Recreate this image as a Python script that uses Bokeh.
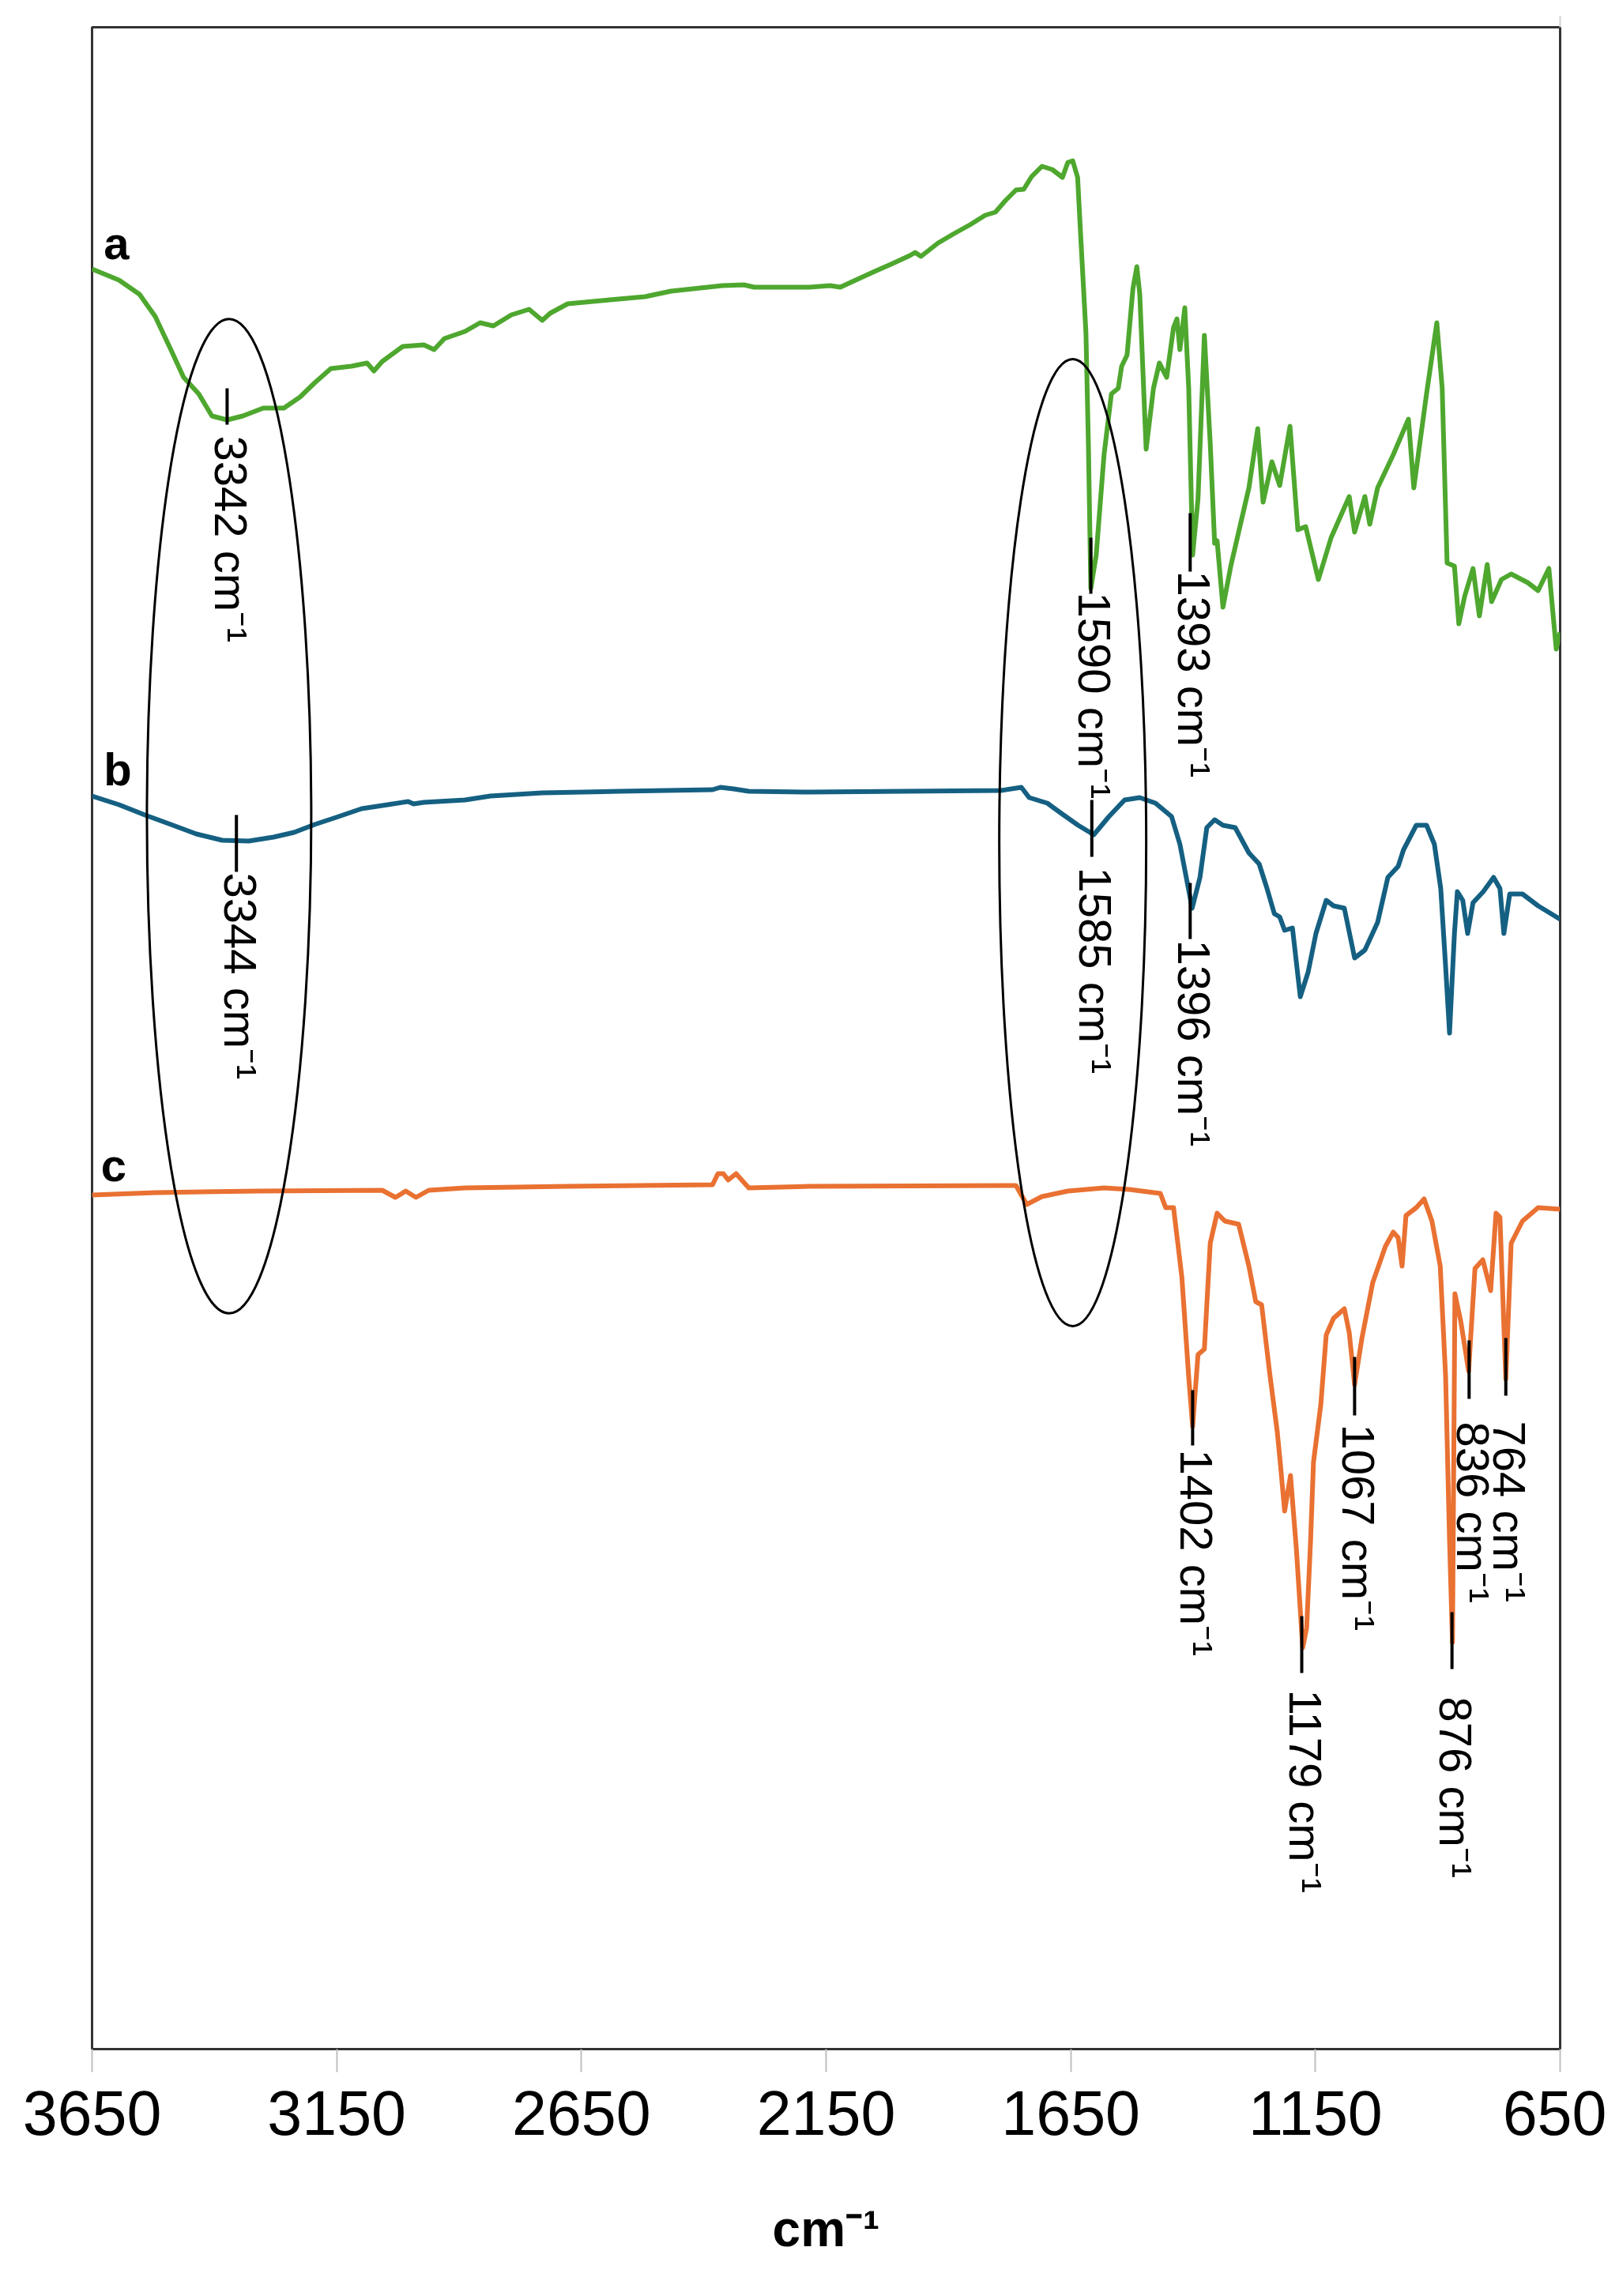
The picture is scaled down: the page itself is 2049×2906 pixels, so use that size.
import numpy as np
from bokeh.plotting import figure
from bokeh.models import Range1d, FixedTicker, LinearAxis
from bokeh.core.properties import value
from bokeh.embed import file_html
from bokeh.resources import INLINE

# ---- data: wavenumber (cm-1) vs stacked transmittance (a.u.) ----
wn_a = [3650, 3595, 3553, 3521, 3489, 3463, 3432, 3405, 3374, 3342,
        3300, 3258, 3225, 3195, 3162, 3120, 3088, 3074, 3057, 3015,
        2972, 2951, 2930, 2888, 2857, 2830, 2793, 2757, 2730, 2714,
        2678, 2592, 2520, 2467, 2362, 2318, 2297, 2184, 2142, 2121,
        2079, 2047, 2014, 1979, 1968, 1956, 1921, 1888, 1856, 1825,
        1804, 1783, 1762, 1746, 1730, 1709, 1688, 1667, 1656, 1646,
        1636, 1630, 1619, 1614, 1609, 1598, 1582, 1567, 1553, 1546,
        1535, 1523, 1515, 1509, 1496, 1481, 1469, 1454, 1440, 1433,
        1427, 1417, 1409, 1401, 1390, 1377, 1365, 1356, 1351, 1339,
        1323, 1307, 1286, 1268, 1257, 1239, 1223, 1202, 1186, 1170,
        1144, 1118, 1081, 1070, 1049, 1039, 1023, 991, 960, 949,
        923, 902, 891, 881, 866, 857, 845, 828, 815, 799,
        790, 770, 750, 716, 695, 673, 658, 650]
t_a = [225.3, 223.9, 222.1, 219.3, 215.1, 211.6, 209.5, 206.7, 206.2, 206.7,
       207.7, 207.7, 209.1, 210.9, 212.7, 213.0, 213.4, 212.4, 213.6, 215.5,
       215.7, 215.1, 216.5, 217.4, 218.5, 218.1, 219.5, 220.2, 218.8, 219.7,
       220.9, 221.4, 221.8, 222.5, 223.2, 223.3, 223.0, 223.0, 223.2, 223.0,
       224.2, 225.1, 226.0, 227.0, 227.4, 226.9, 228.6, 229.8, 230.9, 232.1,
       232.5, 234.0, 235.3, 235.4, 237.0, 238.3, 237.9, 236.9, 238.8, 239.0,
       236.9, 229.8, 217.2, 203.2, 184.9, 189.1, 201.8, 209.5, 210.2, 213.0,
       214.4, 222.8, 225.6, 222.1, 202.5, 210.2, 213.4, 211.6, 217.9, 219.0,
       215.1, 220.4, 210.2, 189.1, 196.2, 216.9, 203.2, 190.6, 190.9, 182.5,
       187.7, 192.0, 197.6, 205.1, 195.8, 200.9, 197.9, 205.4, 192.3, 192.7,
       186.0, 191.3, 196.5, 192.0, 196.5, 193.0, 197.6, 201.8, 206.3, 197.6,
       209.5, 218.5, 210.2, 188.1, 187.7, 180.4, 183.9, 187.4, 181.4, 187.9,
       183.2, 186.0, 186.7, 185.6, 184.6, 187.4, 177.2, 179.3]

wn_b = [3650, 3595, 3542, 3489, 3437, 3384, 3330, 3279, 3237, 3195,
        3151, 3099, 3046, 3004, 2993, 2972, 2888, 2836, 2730, 2571,
        2382, 2366, 2339, 2308, 2184, 1793, 1751, 1735, 1698, 1667,
        1635, 1603, 1572, 1540, 1509, 1477, 1444, 1427, 1414, 1402,
        1386, 1372, 1356, 1339, 1314, 1286, 1265, 1249, 1234, 1223,
        1213, 1197, 1181, 1165, 1149, 1128, 1113, 1091, 1070, 1049,
        1023, 1002, 981, 970, 944, 923, 907, 894, 884, 876,
        866, 860, 849, 839, 828, 807, 786, 773, 765, 753,
        727, 695, 650]
t_b = [158.6, 157.5, 156.2, 155.0, 153.8, 153.0, 152.9, 153.4, 154.0, 155.0,
       155.9, 157.0, 157.5, 157.9, 157.6, 157.8, 158.1, 158.6, 159.0, 159.2,
       159.4, 159.7, 159.5, 159.2, 159.1, 159.3, 159.7, 158.4, 157.7, 156.3,
       154.9, 153.7, 156.0, 158.1, 158.4, 157.7, 156.0, 152.5, 148.3, 144.4,
       148.3, 154.6, 155.6, 154.9, 154.6, 151.4, 150.0, 146.9, 143.7, 143.3,
       141.6, 141.9, 133.2, 136.3, 141.2, 145.4, 144.7, 144.4, 138.1, 139.1,
       142.6, 148.3, 149.7, 151.8, 154.9, 154.9, 152.5, 146.9, 137.0, 128.6,
       141.2, 146.5, 145.4, 141.2, 145.1, 146.5, 148.3, 146.9, 141.2, 146.2,
       146.2, 144.7, 143.0]

wn_c = [3650, 3521, 3309, 3057, 3030, 3009, 2988, 2962, 2888, 2678,
        2382, 2371, 2360, 2350, 2334, 2308, 2184, 1762, 1740, 1709,
        1656, 1582, 1530, 1467, 1456, 1440, 1423, 1409, 1401, 1390,
        1377, 1365, 1351, 1335, 1307, 1286, 1272, 1260, 1244, 1228,
        1222, 1213, 1201, 1189, 1176, 1168, 1160, 1154, 1139, 1128,
        1113, 1091, 1081, 1070, 1055, 1033, 1007, 991, 981, 973,
        965, 944, 928, 912, 895, 884, 876, 870, 865, 853,
        837, 824, 808, 792, 781, 773, 761, 750, 727, 695,
        650]
t_c = [108.1, 108.4, 108.6, 108.7, 107.8, 108.6, 107.8, 108.7, 109.0, 109.2,
       109.4, 110.8, 110.8, 110.0, 110.8, 109.0, 109.2, 109.3, 106.9, 107.9,
       108.6, 109.0, 108.8, 108.3, 106.5, 106.5, 97.7, 85.1, 78.8, 87.9,
       88.6, 102.0, 105.8, 104.8, 104.4, 99.1, 94.6, 94.2, 85.8, 78.1,
       74.3, 68.1, 72.6, 63.3, 50.8, 53.3, 64.3, 74.3, 81.6, 90.4,
       92.5, 93.7, 90.7, 84.1, 90.0, 97.0, 101.6, 103.4, 102.7, 99.1,
       105.5, 106.5, 107.6, 104.8, 99.1, 85.1, 64.3, 51.5, 95.6, 92.1,
       85.8, 98.8, 99.9, 96.0, 105.8, 105.3, 84.8, 102.0, 104.8, 106.5,
       106.3]

x_ticks = [3650, 3150, 2650, 2150, 1650, 1150, 650]

# curve labels
curve_labels = ["a", "b", "c"]
curve_label_x = [3626, 3626, 3632]
curve_label_y = [228.6, 162.0, 111.9]

# peak annotations
ann_labels = ["3342 cm⁻¹", "1590 cm⁻¹", "1393 cm⁻¹",
              "3344 cm⁻¹", "1585 cm⁻¹", "1396 cm⁻¹",
              "1402 cm⁻¹", "1179 cm⁻¹", "1067 cm⁻¹",
              "876 cm⁻¹", "836 cm⁻¹", "764 cm⁻¹"]
ann_x = [3374, 1609, 1406, 3355, 1607, 1406, 1401, 1178, 1070, 871, 836, 761]
ann_top = [210.2, 191.3, 194.4, 156.2, 158.1, 147.6, 83.4, 54.8, 87.6, 55.3, 89.7, 90.0]
ann_bot = [205.6, 184.2, 187.0, 149.0, 150.9, 140.5, 76.4, 47.6, 80.2, 48.1, 82.3, 82.7]
ann_text_y = [204.2, 184.4, 187.1, 148.9, 149.6, 140.4, 75.9, 45.5, 79.1, 44.6, 79.4, 79.5]

# highlighted regions (ellipses)
ell_x = [3370, 1646]
ell_y = [156.05, 152.7]
ell_w = [335.8, 300.3]
ell_h = [125.9, 122.4]

FONT = "Liberation Sans"

p = figure(width=2033, height=2890,
           x_range=Range1d(3650, 650), y_range=Range1d(0, 255.9),
           output_backend="svg", toolbar_location=None,
           y_axis_location=None,
           min_border_left=116, min_border_right=59,
           min_border_top=34, min_border_bottom=297)

p.xgrid.visible = False
p.ygrid.visible = False
p.outline_line_color = "#333333"
p.outline_line_width = 3
p.background_fill_color = "white"
p.border_fill_color = "white"

ax = p.xaxis[0]
ax.ticker = FixedTicker(ticks=x_ticks)
ax.major_label_text_font = FONT
ax.major_label_text_font_size = "79px"
ax.major_label_text_color = "black"
ax.major_label_standoff = 24
ax.major_tick_in = 0
ax.major_tick_out = 29
ax.major_tick_line_color = "#bfbfbf"
ax.major_tick_line_width = 2
ax.minor_tick_line_color = None
ax.axis_line_color = "#333333"
ax.axis_line_width = 3
ax.axis_label = "cm⁻¹"
ax.axis_label_text_font = FONT
ax.axis_label_text_font_style = "bold"
ax.axis_label_text_font_size = "64px"
ax.axis_label_text_color = "black"
ax.axis_label_standoff = 80

# small grey tick above the top-right corner
top_ax = LinearAxis(ticker=FixedTicker(ticks=[650]),
                    major_label_overrides={650: ""},
                    major_label_text_font_size="0px",
                    axis_line_color=None, minor_tick_line_color=None,
                    major_tick_in=0, major_tick_out=14,
                    major_tick_line_color="#d0d0d0", major_tick_line_width=2)
p.add_layout(top_ax, "above")

p.line(wn_a, t_a, line_color="#4EA72E", line_width=6, line_join="round")
p.line(wn_b, t_b, line_color="#156082", line_width=6, line_join="round")
p.line(wn_c, t_c, line_color="#E97132", line_width=6, line_join="round")

p.ellipse(x=ell_x, y=ell_y, width=ell_w, height=ell_h,
          fill_color=None, line_color="black", line_width=3)

p.segment(x0=ann_x, y0=ann_top, x1=ann_x, y1=ann_bot,
          line_color="black", line_width=4)

p.text(x=ann_x, y=ann_text_y, text=ann_labels, angle=-np.pi / 2,
       x_offset=5, text_align="left", text_baseline="middle",
       text_font=value(FONT), text_font_size="58px", text_color="black")

p.text(x=curve_label_x, y=curve_label_y, text=curve_labels,
       text_align="left", text_baseline="middle",
       text_font=value(FONT), text_font_style="bold",
       text_font_size="58px", text_color="black")

open("out.html", "w").write(file_html(p, INLINE))
